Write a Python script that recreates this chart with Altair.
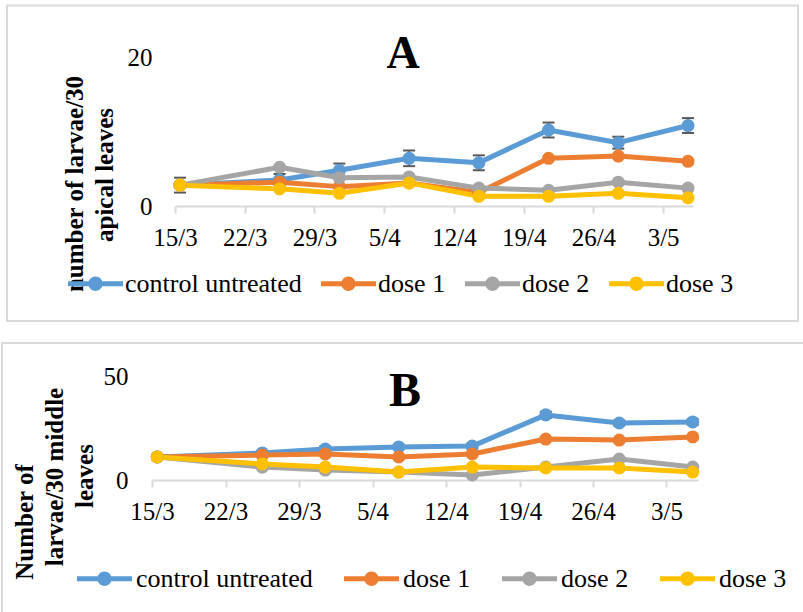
import altair as alt
import pandas as pd

# Series and their colours
SERIES = ["control untreated", "dose 1", "dose 2", "dose 3"]
COLORS = ["#5B9BD5", "#ED7D31", "#A5A5A5", "#FFC000"]

# Sampling dates (values are plotted at mid-day of each date)
SAMPLE_DATES = ["2021-03-15", "2021-03-25", "2021-03-31", "2021-04-07",
                "2021-04-14", "2021-04-21", "2021-04-28", "2021-05-05"]

# Weekly axis ticks (month, day)
TICKS = [(3, 15), (3, 22), (3, 29), (4, 5), (4, 12), (4, 19), (4, 26), (5, 3)]

# A: larvae per 30 apical leaves
control_a = [2.8, 3.5, 4.8, 6.4, 5.8, 10.2, 8.5, 10.8]
dose1_a = [2.8, 3.2, 2.6, 3.1, 1.8, 6.4, 6.7, 6.0]
dose2_a = [2.8, 5.2, 3.8, 3.9, 2.4, 2.1, 3.2, 2.4]
dose3_a = [2.8, 2.3, 1.7, 3.1, 1.3, 1.3, 1.7, 1.1]
control_err_a = [1.0, 0.8, 0.9, 1.05, 1.0, 1.0, 0.8, 1.0]

# B: larvae per 30 middle leaves
control_b = [11.1, 13.0, 14.9, 15.9, 16.3, 31.3, 27.4, 27.9]
dose1_b = [11.1, 12.0, 12.5, 11.1, 12.5, 19.7, 19.2, 20.7]
dose2_b = [11.1, 6.2, 4.8, 3.8, 2.4, 6.2, 10.1, 6.2]
dose3_b = [11.1, 7.7, 6.2, 3.8, 6.2, 5.8, 5.8, 3.8]
control_err_b = [1.0, 1.0, 1.2, 1.0, 1.2, 1.5, 1.2, 1.3]

W, H = 803, 612
FONT = "Liberation Serif"
GRID = "#D9D9D9"
ERR = "#595959"

# legend glyph: a short thick line with a dot in the middle
LEGEND_GLYPH = ("M-1,-0.09L1,-0.09L1,0.09L-1,0.09Z"
                "M-0.26,0A0.26,0.26 0 1,1 0.26,0A0.26,0.26 0 1,1 -0.26,0Z")

ONE = alt.Data(values=[{}])


def long_table(series_values):
    rows = []
    for name, vals in zip(SERIES, series_values):
        for d, v in zip(SAMPLE_DATES, vals):
            rows.append({"series": name, "date": d + "T12:00:00", "value": v})
    return pd.DataFrame(rows)


def err_table(vals, errs):
    return pd.DataFrame({
        "date": [d + "T12:00:00" for d in SAMPLE_DATES],
        "lo": [v - e for v, e in zip(vals, errs)],
        "hi": [v + e for v, e in zip(vals, errs)],
    })


def panel(series_values, errs, ymax, xrange, yrange, ypad, legend_xy, col_pad, label_off):
    data = long_table(series_values)
    edata = err_table(series_values[0], errs)

    xscale = alt.Scale(domain=[alt.DateTime(year=2021, month=3, date=15),
                               alt.DateTime(year=2021, month=5, date=6)],
                       range=list(xrange), nice=False)
    yscale = alt.Scale(domain=[0, ymax], range=list(yrange), nice=False, zero=True)

    xaxis = alt.Axis(values=[alt.DateTime(year=2021, month=m, date=d) for m, d in TICKS],
                     format="%-d/%-m", title=None, grid=False, orient="bottom",
                     offset=yrange[0] - H,
                     domainColor=GRID, domainWidth=2, tickColor=GRID, tickWidth=2,
                     tickSize=7, labelPadding=12, labelFontSize=25, labelFont=FONT,
                     labelColor="black", labelFlush=False, labelOverlap=False)
    yaxis = alt.Axis(values=[0, ymax], title=None, grid=False, domain=False, ticks=False,
                     orient="left", offset=-xrange[0],
                     labelPadding=ypad, labelFontSize=25, labelFont=FONT, labelColor="black")

    # every layer carries the same scale and axis definitions so they merge into one
    def X(field):
        return alt.X(f"{field}:T", scale=xscale, axis=xaxis)

    def Y(field):
        return alt.Y(f"{field}:Q", scale=yscale, axis=yaxis)

    layers = [
        alt.Chart(edata).mark_rule(color=ERR, strokeWidth=1.5).encode(
            x=X("date"), y=Y("lo"), y2="hi:Q"),
        alt.Chart(edata).mark_tick(orient="horizontal", color=ERR, size=12,
                                   thickness=2, opacity=1).encode(x=X("date"), y=Y("lo")),
        alt.Chart(edata).mark_tick(orient="horizontal", color=ERR, size=12,
                                   thickness=2, opacity=1).encode(x=X("date"), y=Y("hi")),
    ]
    for name, col in zip(SERIES, COLORS):
        layers.append(
            alt.Chart(data).transform_filter(alt.datum.series == name).mark_line(
                color=col, strokeWidth=5, strokeCap="round", strokeJoin="round").encode(
                x=X("date"), y=Y("value")))

    layers.append(
        alt.Chart(data).mark_point(filled=True, size=170, opacity=1).encode(
            x=X("date"), y=Y("value"),
            color=alt.Color("series:N", scale=alt.Scale(domain=SERIES, range=COLORS),
                            legend=alt.Legend(
                                title=None, orient="none", direction="horizontal",
                                legendX=legend_xy[0], legendY=legend_xy[1],
                                symbolType=LEGEND_GLYPH, symbolSize=3025,
                                symbolStrokeWidth=0, symbolOpacity=1,
                                labelFont=FONT, labelFontSize=26, labelColor="black",
                                labelOffset=label_off, columnPadding=col_pad,
                                padding=0, labelLimit=400))))
    return alt.layer(*layers)


def text_mark(txt, x, y, size, angle=0):
    kwargs = dict(text=txt, font=FONT, fontSize=size, fontWeight="bold", color="black",
                  align="center", baseline="alphabetic")
    if angle:
        kwargs["angle"] = angle
    return alt.Chart(ONE).mark_text(**kwargs).encode(x=alt.value(x), y=alt.value(y))


def rule(x, x2, y, y2):
    return alt.Chart(ONE).mark_rule(stroke=GRID, strokeWidth=2).encode(
        x=alt.value(x), x2=alt.value(x2), y=alt.value(y), y2=alt.value(y2))


# panel frames
frame_a = alt.Chart(ONE).mark_rect(fillOpacity=0, stroke=GRID, strokeWidth=2).encode(
    x=alt.value(7), x2=alt.value(798), y=alt.value(5.5), y2=alt.value(321))
frame_b = [rule(1, W, 343, 343), rule(2, 2, 343, H)]

panel_a = panel([control_a, dose1_a, dose2_a, dose3_a], control_err_a, 20,
                xrange=(175, 693), yrange=(206, 57), ypad=23,
                legend_xy=(68, 256), col_pad=19, label_off=2)
panel_b = panel([control_b, dose1_b, dose2_b, dose3_b], control_err_b, 50,
                xrange=(152, 698), yrange=(480, 376), ypad=24,
                legend_xy=(77, 551), col_pad=31, label_off=4)

labels = [
    text_mark("A", 403, 68, 46),
    text_mark("B", 405, 406, 48),
    text_mark("number of larvae/30", 83, 184, 25, 270),
    text_mark("apical leaves", 113, 175, 25, 270),
    text_mark("Number of", 33, 522, 25, 270),
    text_mark("larvae/30 middle", 63, 477, 25, 270),
    text_mark("leaves", 93, 476, 25, 270),
]

chart = alt.layer(
    frame_a, *frame_b, panel_a, panel_b, *labels
).resolve_scale(
    x="independent", y="independent", color="independent"
).properties(
    width=W, height=H, padding=0, background="white",
    autosize=alt.AutoSizeParams(type="none"),
).configure_view(strokeWidth=0)

chart.save("out.html", embed_options={"renderer": "svg", "actions": False})
